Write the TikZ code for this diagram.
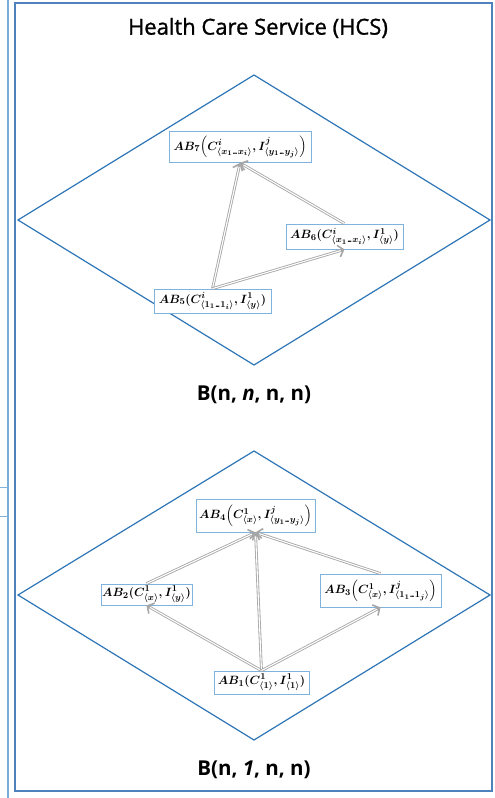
\documentclass[tikz,border=0pt]{standalone}
\usepackage{amsmath}
\usepackage{fontspec}
\setsansfont{Open Sans}
\newfontfamily\titlefont[FakeBold=1.2]{Open Sans}
\usetikzlibrary{arrows.meta}
\definecolor{frameblue}{HTML}{4F81BD}
\definecolor{diamblue}{HTML}{2E75B6}
\definecolor{boxblue}{HTML}{7FB2DD}
\DeclareMathSizes{12.2}{12.2}{9}{7}
\newcommand{\dts}{\mathinner{\ldotp\!\ldotp\!\ldotp}}
\tikzset{
  abbox/.style={draw=boxblue,fill=white,line width=0.8pt,inner sep=1pt,font=\fontsize{12.2}{14}\selectfont\boldmath},
  inherit/.style={draw=gray!70,line width=2.8pt,-{Straight Barb[length=5pt,width=12pt,line width=1.6pt]},
    postaction={draw=white,line width=1.1pt,shorten >=4pt,-}},
  level/.style={font=\sffamily\bfseries\fontsize{20.5}{24}\selectfont}
}
\begin{document}
\begin{tikzpicture}[x=1pt,y=-1pt]
\useasboundingbox(0,0)rectangle(495,798);
%frame
\draw[boxblue!90!frameblue,line width=1.2pt](8,0)--(8,798);
\draw[boxblue,line width=1pt](-2,487)--(7,487)(-2,516)--(7,516);
\draw[frameblue,line width=1.5pt](15,3)rectangle(492,791);
\node[font=\titlefont\fontsize{22}{26}\selectfont](hcs)at(258,28){Health Care Service (HCS)};
%upper level
\draw[diamblue,line width=1.2pt](254,75)--(490,220)--(254,365)--(18,220)--cycle;
\node[level](bnn)at(254,395){B(n, \textit{n}, n, n)};
\node[abbox,minimum width=142pt,minimum height=31pt](ab7)at(240,147)
  {$AB_7\Bigl(C^{i}_{\langle x_1\dts x_i\rangle},I^{j}_{\langle y_1\dts y_j\rangle}\Bigr)$};
\node[abbox,minimum width=117pt,minimum height=25pt](ab6)at(344.5,236.5)
  {$AB_6(C^{i}_{\langle x_1\dts x_i\rangle},I^{1}_{\langle y\rangle})$};
\node[abbox,minimum width=117pt,minimum height=24pt](ab5)at(212.5,301)
  {$AB_5(C^{i}_{\langle 1_1\dts 1_i\rangle},I^{1}_{\langle y\rangle})$};
\draw[inherit](ab5.north)--(ab7.south);
\draw[inherit](ab5.north)--(ab6.south);
\draw[inherit](ab6.north)--(ab7.south);
%lower level
\draw[diamblue,line width=1.2pt](254,451)--(490,595)--(254,740)--(18,595)--cycle;
\node[level](bn1)at(254,770){B(n, \textit{1}, n, n)};
\node[abbox,minimum width=119pt,minimum height=33pt](ab4)at(255.5,515.5)
  {$AB_4\Bigl(C^{1}_{\langle x\rangle},I^{j}_{\langle y_1\dts y_j\rangle}\Bigr)$};
\node[abbox,minimum width=91pt,minimum height=21pt](ab2)at(146.5,594.5)
  {$AB_2(C^{1}_{\langle x\rangle},I^{1}_{\langle y\rangle})$};
\node[abbox,minimum width=121pt,minimum height=33pt](ab3)at(380.5,590.5)
  {$AB_3\Bigl(C^{1}_{\langle x\rangle},I^{j}_{\langle 1_1\dts 1_j\rangle}\Bigr)$};
\node[abbox,minimum width=95pt,minimum height=23pt](ab1)at(261.5,682.5)
  {$AB_1(C^{1}_{\langle 1\rangle},I^{1}_{\langle 1\rangle})$};
\draw[inherit](ab1.north)--(ab2.south);
\draw[inherit](ab1.north)--(ab4.south);
\draw[inherit](ab1.north)--(ab3.south);
\draw[inherit](ab2.north)--(ab4.south);
\draw[inherit](ab3.north)--(ab4.south);
\end{tikzpicture}
\end{document}
